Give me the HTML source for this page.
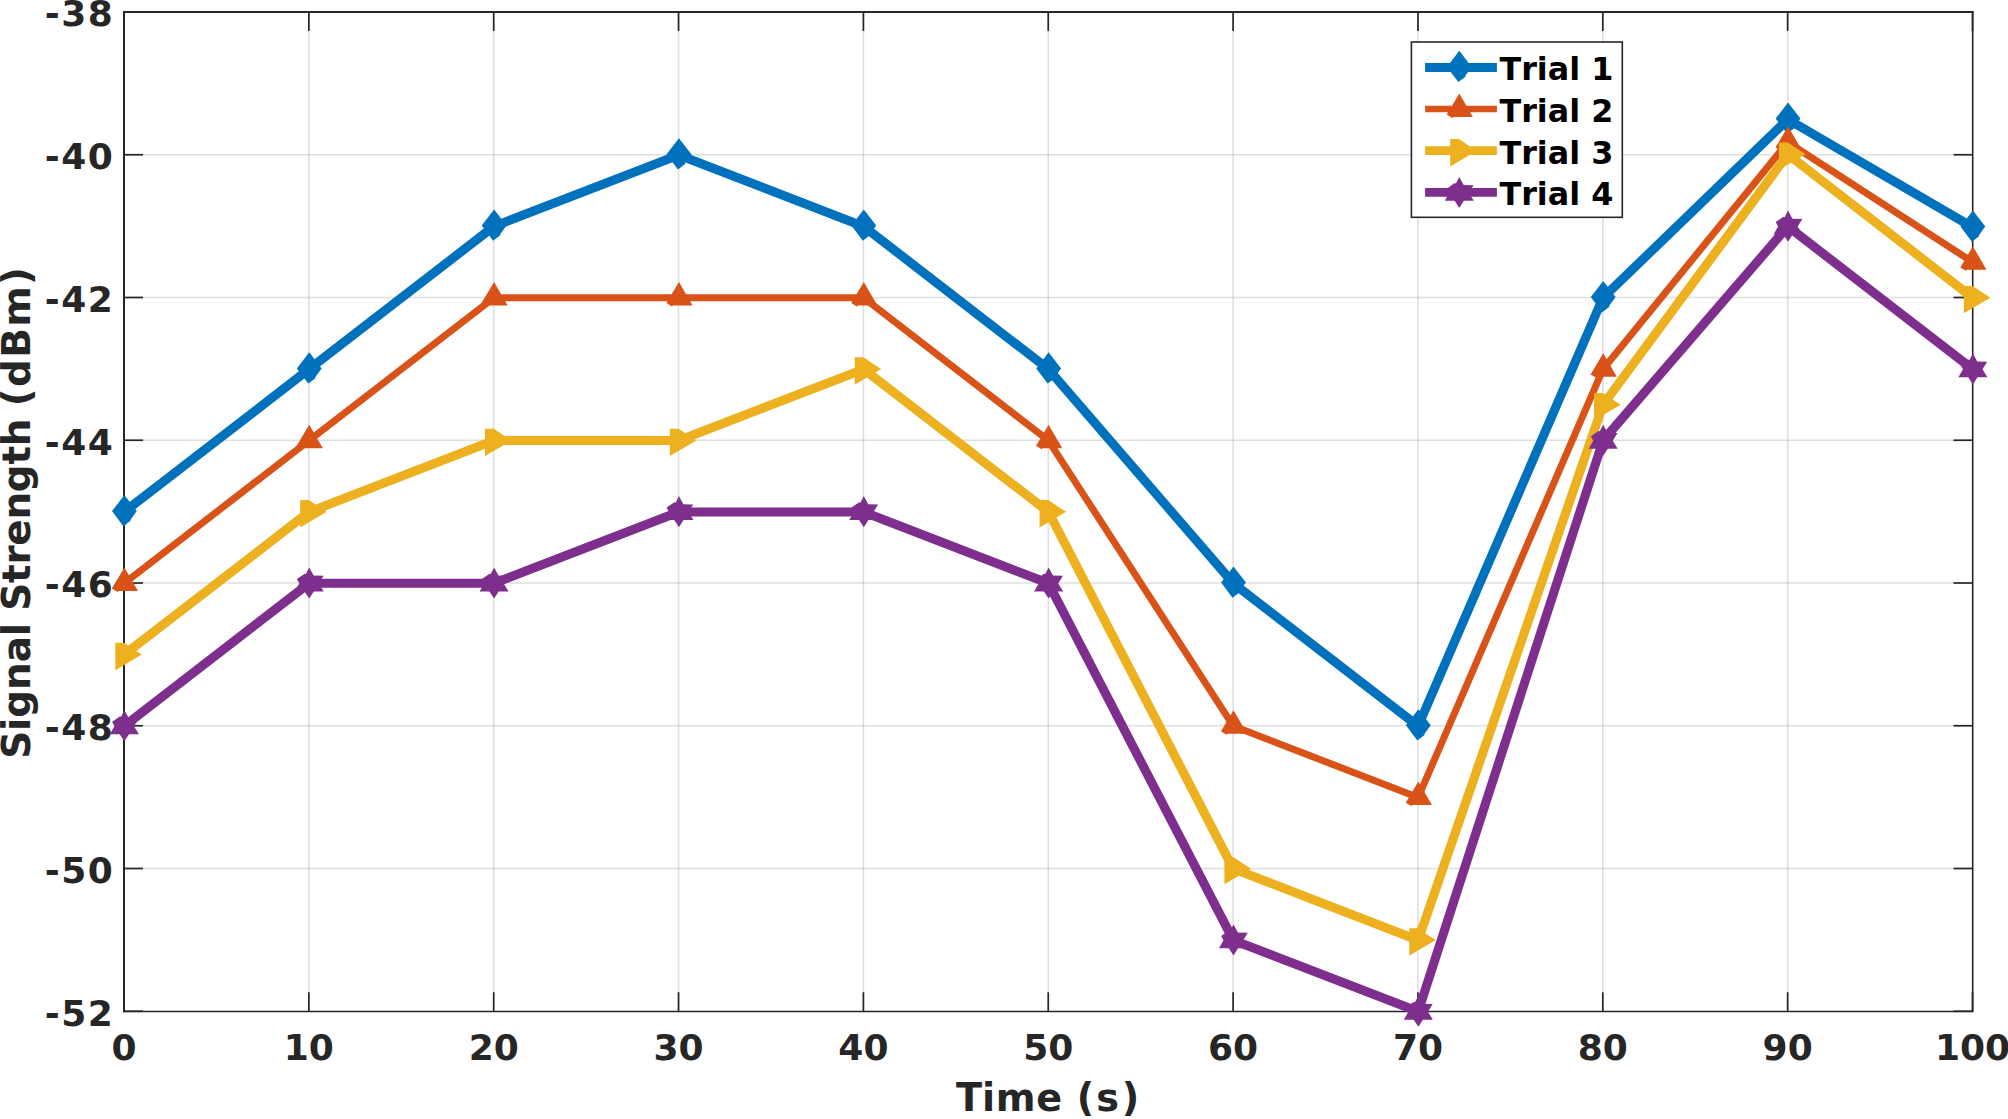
<!DOCTYPE html>
<html lang="en"><head><meta charset="utf-8"><title>Signal Strength vs Time</title>
<style>
html,body{margin:0;padding:0;background:#fff;}
body{width:2008px;height:1119px;overflow:hidden;}
svg{display:block;}
text{font-family:'DejaVu Sans','Liberation Sans',sans-serif;font-weight:bold;font-kerning:none;}
.tk{font-size:36px;fill:#262626;}
.xl{font-size:38.2px;fill:#262626;letter-spacing:0px;}
.yl{font-size:38.9px;fill:#262626;letter-spacing:0px;}
.yt{letter-spacing:1.5px;}
.lg{font-size:31.8px;fill:#000;letter-spacing:0px;}
</style></head><body>
<svg width="2008" height="1119" viewBox="0 0 2008 1119" role="img" aria-label="Signal Strength versus Time for four trials">
<rect x="0" y="0" width="2008" height="1119" fill="#fff"/>
<g stroke="#262626" stroke-opacity="0.15" stroke-width="1.6" fill="none">
<line x1="308.85" y1="12" x2="308.85" y2="1011.25"/>
<line x1="493.7" y1="12" x2="493.7" y2="1011.25"/>
<line x1="678.55" y1="12" x2="678.55" y2="1011.25"/>
<line x1="863.4" y1="12" x2="863.4" y2="1011.25"/>
<line x1="1048.25" y1="12" x2="1048.25" y2="1011.25"/>
<line x1="1233.1" y1="12" x2="1233.1" y2="1011.25"/>
<line x1="1417.95" y1="12" x2="1417.95" y2="1011.25"/>
<line x1="1602.8" y1="12" x2="1602.8" y2="1011.25"/>
<line x1="1787.65" y1="12" x2="1787.65" y2="1011.25"/>
<line x1="124" y1="868.5" x2="1972.5" y2="868.5"/>
<line x1="124" y1="725.75" x2="1972.5" y2="725.75"/>
<line x1="124" y1="583" x2="1972.5" y2="583"/>
<line x1="124" y1="440.25" x2="1972.5" y2="440.25"/>
<line x1="124" y1="297.5" x2="1972.5" y2="297.5"/>
<line x1="124" y1="154.75" x2="1972.5" y2="154.75"/>
</g>
<g stroke="#262626" stroke-width="1.7" fill="none">
<line x1="124" y1="1011.25" x2="124" y2="992.25"/>
<line x1="124" y1="12" x2="124" y2="31"/>
<line x1="308.85" y1="1011.25" x2="308.85" y2="992.25"/>
<line x1="308.85" y1="12" x2="308.85" y2="31"/>
<line x1="493.7" y1="1011.25" x2="493.7" y2="992.25"/>
<line x1="493.7" y1="12" x2="493.7" y2="31"/>
<line x1="678.55" y1="1011.25" x2="678.55" y2="992.25"/>
<line x1="678.55" y1="12" x2="678.55" y2="31"/>
<line x1="863.4" y1="1011.25" x2="863.4" y2="992.25"/>
<line x1="863.4" y1="12" x2="863.4" y2="31"/>
<line x1="1048.25" y1="1011.25" x2="1048.25" y2="992.25"/>
<line x1="1048.25" y1="12" x2="1048.25" y2="31"/>
<line x1="1233.1" y1="1011.25" x2="1233.1" y2="992.25"/>
<line x1="1233.1" y1="12" x2="1233.1" y2="31"/>
<line x1="1417.95" y1="1011.25" x2="1417.95" y2="992.25"/>
<line x1="1417.95" y1="12" x2="1417.95" y2="31"/>
<line x1="1602.8" y1="1011.25" x2="1602.8" y2="992.25"/>
<line x1="1602.8" y1="12" x2="1602.8" y2="31"/>
<line x1="1787.65" y1="1011.25" x2="1787.65" y2="992.25"/>
<line x1="1787.65" y1="12" x2="1787.65" y2="31"/>
<line x1="1972.5" y1="1011.25" x2="1972.5" y2="992.25"/>
<line x1="1972.5" y1="12" x2="1972.5" y2="31"/>
<line x1="124" y1="1011.25" x2="143" y2="1011.25"/>
<line x1="1972.5" y1="1011.25" x2="1953.5" y2="1011.25"/>
<line x1="124" y1="868.5" x2="143" y2="868.5"/>
<line x1="1972.5" y1="868.5" x2="1953.5" y2="868.5"/>
<line x1="124" y1="725.75" x2="143" y2="725.75"/>
<line x1="1972.5" y1="725.75" x2="1953.5" y2="725.75"/>
<line x1="124" y1="583" x2="143" y2="583"/>
<line x1="1972.5" y1="583" x2="1953.5" y2="583"/>
<line x1="124" y1="440.25" x2="143" y2="440.25"/>
<line x1="1972.5" y1="440.25" x2="1953.5" y2="440.25"/>
<line x1="124" y1="297.5" x2="143" y2="297.5"/>
<line x1="1972.5" y1="297.5" x2="1953.5" y2="297.5"/>
<line x1="124" y1="154.75" x2="143" y2="154.75"/>
<line x1="1972.5" y1="154.75" x2="1953.5" y2="154.75"/>
<line x1="124" y1="12" x2="143" y2="12"/>
<line x1="1972.5" y1="12" x2="1953.5" y2="12"/>
</g>
<g stroke="#262626" fill="none" stroke-linecap="square">
<line x1="124" y1="12" x2="1972.5" y2="12" stroke-width="2"/>
<line x1="124" y1="12" x2="124" y2="1011.25" stroke-width="2"/>
<line x1="124" y1="1011.6" x2="1972.5" y2="1011.6" stroke-width="1.5"/>
<line x1="1972.7" y1="12" x2="1972.7" y2="1011.25" stroke-width="1.6"/>
</g>
<polyline points="124.2,511.93 309.05,369.18 493.9,226.43 678.75,155.05 863.6,226.43 1048.45,369.18 1233.3,583.3 1418.15,726.05 1603,297.8 1787.85,119.36 1972.7,227.28" fill="none" stroke="#0072BD" stroke-width="9.1" stroke-linejoin="round" stroke-linecap="butt"/>
<polygon points="124.4,495.02 136.8,511.12 130.2,520.23 130.9,520.62 123.4,526.33 112,511.12" fill="#0072BD"/>
<polygon points="309.25,352.27 321.65,368.38 315.05,377.48 315.75,377.88 308.25,383.57 296.85,368.38" fill="#0072BD"/>
<polygon points="494.1,209.53 506.5,225.62 499.9,234.72 500.6,235.12 493.1,240.82 481.7,225.62" fill="#0072BD"/>
<polygon points="678.95,138.15 691.35,154.25 684.75,163.35 685.45,163.75 677.95,169.45 666.55,154.25" fill="#0072BD"/>
<polygon points="863.8,209.53 876.2,225.62 869.6,234.72 870.3,235.12 862.8,240.82 851.4,225.62" fill="#0072BD"/>
<polygon points="1048.65,352.27 1061.05,368.38 1054.45,377.48 1055.15,377.88 1047.65,383.57 1036.25,368.38" fill="#0072BD"/>
<polygon points="1233.5,566.4 1245.9,582.5 1239.3,591.6 1240,592 1232.5,597.7 1221.1,582.5" fill="#0072BD"/>
<polygon points="1418.35,709.15 1430.75,725.25 1424.15,734.35 1424.85,734.75 1417.35,740.45 1405.95,725.25" fill="#0072BD"/>
<polygon points="1603.2,280.9 1615.6,297 1609,306.1 1609.7,306.5 1602.2,312.2 1590.8,297" fill="#0072BD"/>
<polygon points="1788.05,102.46 1800.45,118.56 1793.85,127.66 1794.55,128.06 1787.05,133.76 1775.65,118.56" fill="#0072BD"/>
<polygon points="1972.9,210.38 1985.3,226.48 1978.7,235.58 1979.4,235.98 1971.9,241.68 1960.5,226.48" fill="#0072BD"/>
<polyline points="124.2,583.3 309.05,440.55 493.9,297.8 678.75,297.8 863.6,297.8 1048.45,440.55 1233.3,726.05 1418.15,797.42 1603,369.18 1787.85,142.2 1972.7,262.11" fill="none" stroke="#D95319" stroke-width="7" stroke-linejoin="round" stroke-linecap="butt"/>
<polygon points="124.4,567.4 138,590.95 118.4,590.95 117.4,591.95 111.8,588.6" fill="#D95319"/>
<polygon points="309.25,424.65 322.85,448.2 303.25,448.2 302.25,449.2 296.65,445.85" fill="#D95319"/>
<polygon points="494.1,281.9 507.7,305.45 488.1,305.45 487.1,306.45 481.5,303.1" fill="#D95319"/>
<polygon points="678.95,281.9 692.55,305.45 672.95,305.45 671.95,306.45 666.35,303.1" fill="#D95319"/>
<polygon points="863.8,281.9 877.4,305.45 857.8,305.45 856.8,306.45 851.2,303.1" fill="#D95319"/>
<polygon points="1048.65,424.65 1062.25,448.2 1042.65,448.2 1041.65,449.2 1036.05,445.85" fill="#D95319"/>
<polygon points="1233.5,710.15 1247.1,733.7 1227.5,733.7 1226.5,734.7 1220.9,731.35" fill="#D95319"/>
<polygon points="1418.35,781.52 1431.95,805.08 1412.35,805.08 1411.35,806.08 1405.75,802.73" fill="#D95319"/>
<polygon points="1603.2,353.27 1616.8,376.82 1597.2,376.82 1596.2,377.82 1590.6,374.48" fill="#D95319"/>
<polygon points="1788.05,126.3 1801.65,149.85 1782.05,149.85 1781.05,150.85 1775.45,147.5" fill="#D95319"/>
<polygon points="1972.9,246.21 1986.5,269.76 1966.9,269.76 1965.9,270.76 1960.3,267.41" fill="#D95319"/>
<polyline points="124.2,654.67 309.05,511.93 493.9,440.55 678.75,440.55 863.6,369.18 1048.45,511.93 1233.3,868.8 1418.15,940.17 1603,404.86 1787.85,154.34 1972.7,297.8" fill="none" stroke="#EDB120" stroke-width="9.1" stroke-linejoin="round" stroke-linecap="butt"/>
<polygon points="115.3,642.83 124.1,642.83 132.7,648.67 141.9,654.58 115.3,670.17" fill="#EDB120"/>
<polygon points="300.15,500.07 308.95,500.07 317.55,505.93 326.75,511.82 300.15,527.42" fill="#EDB120"/>
<polygon points="485,428.7 493.8,428.7 502.4,434.55 511.6,440.45 485,456.05" fill="#EDB120"/>
<polygon points="669.85,428.7 678.65,428.7 687.25,434.55 696.45,440.45 669.85,456.05" fill="#EDB120"/>
<polygon points="854.7,357.32 863.5,357.32 872.1,363.18 881.3,369.07 854.7,384.68" fill="#EDB120"/>
<polygon points="1039.55,500.07 1048.35,500.07 1056.95,505.93 1066.15,511.82 1039.55,527.42" fill="#EDB120"/>
<polygon points="1224.4,856.95 1233.2,856.95 1241.8,862.8 1251,868.7 1224.4,884.3" fill="#EDB120"/>
<polygon points="1409.25,928.33 1418.05,928.33 1426.65,934.17 1435.85,940.08 1409.25,955.67" fill="#EDB120"/>
<polygon points="1594.1,393.01 1602.9,393.01 1611.5,398.86 1620.7,404.76 1594.1,420.36" fill="#EDB120"/>
<polygon points="1778.95,142.49 1787.75,142.49 1796.35,148.34 1805.55,154.24 1778.95,169.84" fill="#EDB120"/>
<polygon points="1963.8,285.95 1972.6,285.95 1981.2,291.8 1990.4,297.7 1963.8,313.3" fill="#EDB120"/>
<polyline points="124.2,726.05 309.05,583.3 493.9,583.3 678.75,511.93 863.6,511.93 1048.45,583.3 1233.3,940.17 1418.15,1011.55 1603,440.55 1787.85,226.43 1972.7,369.18" fill="none" stroke="#7E2F8E" stroke-width="9.1" stroke-linejoin="round" stroke-linecap="butt"/>
<polygon points="124.4,710.25 128.8,718.35 138.7,718.55 134,726.15 138.9,734.15 129,734.15 124.4,741.35 119.7,734.15 109.9,734.15 114.4,726.15 112.1,721.75 119.8,716.45 121,716.85" fill="#7E2F8E"/>
<polygon points="309.25,567.5 313.65,575.6 323.55,575.8 318.85,583.4 323.75,591.4 313.85,591.4 309.25,598.6 304.55,591.4 294.75,591.4 299.25,583.4 296.95,579 304.65,573.7 305.85,574.1" fill="#7E2F8E"/>
<polygon points="494.1,567.5 498.5,575.6 508.4,575.8 503.7,583.4 508.6,591.4 498.7,591.4 494.1,598.6 489.4,591.4 479.6,591.4 484.1,583.4 481.8,579 489.5,573.7 490.7,574.1" fill="#7E2F8E"/>
<polygon points="678.95,496.12 683.35,504.23 693.25,504.43 688.55,512.02 693.45,520.02 683.55,520.02 678.95,527.23 674.25,520.02 664.45,520.02 668.95,512.02 666.65,507.62 674.35,502.32 675.55,502.73" fill="#7E2F8E"/>
<polygon points="863.8,496.12 868.2,504.23 878.1,504.43 873.4,512.02 878.3,520.02 868.4,520.02 863.8,527.23 859.1,520.02 849.3,520.02 853.8,512.02 851.5,507.62 859.2,502.32 860.4,502.73" fill="#7E2F8E"/>
<polygon points="1048.65,567.5 1053.05,575.6 1062.95,575.8 1058.25,583.4 1063.15,591.4 1053.25,591.4 1048.65,598.6 1043.95,591.4 1034.15,591.4 1038.65,583.4 1036.35,579 1044.05,573.7 1045.25,574.1" fill="#7E2F8E"/>
<polygon points="1233.5,924.38 1237.9,932.48 1247.8,932.67 1243.1,940.27 1248,948.27 1238.1,948.27 1233.5,955.48 1228.8,948.27 1219,948.27 1223.5,940.27 1221.2,935.88 1228.9,930.58 1230.1,930.98" fill="#7E2F8E"/>
<polygon points="1418.35,995.75 1422.75,1003.85 1432.65,1004.05 1427.95,1011.65 1432.85,1019.65 1422.95,1019.65 1418.35,1026.85 1413.65,1019.65 1403.85,1019.65 1408.35,1011.65 1406.05,1007.25 1413.75,1001.95 1414.95,1002.35" fill="#7E2F8E"/>
<polygon points="1603.2,424.75 1607.6,432.85 1617.5,433.05 1612.8,440.65 1617.7,448.65 1607.8,448.65 1603.2,455.85 1598.5,448.65 1588.7,448.65 1593.2,440.65 1590.9,436.25 1598.6,430.95 1599.8,431.35" fill="#7E2F8E"/>
<polygon points="1788.05,210.62 1792.45,218.72 1802.35,218.93 1797.65,226.53 1802.55,234.53 1792.65,234.53 1788.05,241.72 1783.35,234.53 1773.55,234.53 1778.05,226.53 1775.75,222.12 1783.45,216.82 1784.65,217.22" fill="#7E2F8E"/>
<polygon points="1972.9,353.38 1977.3,361.48 1987.2,361.68 1982.5,369.27 1987.4,377.27 1977.5,377.27 1972.9,384.48 1968.2,377.27 1958.4,377.27 1962.9,369.27 1960.6,364.88 1968.3,359.57 1969.5,359.98" fill="#7E2F8E"/>
<text class="tk" x="124" y="1060.3" text-anchor="middle">0</text>
<text class="tk" x="308.85" y="1060.3" text-anchor="middle">10</text>
<text class="tk" x="493.7" y="1060.3" text-anchor="middle">20</text>
<text class="tk" x="678.55" y="1060.3" text-anchor="middle">30</text>
<text class="tk" x="863.4" y="1060.3" text-anchor="middle">40</text>
<text class="tk" x="1048.25" y="1060.3" text-anchor="middle">50</text>
<text class="tk" x="1233.1" y="1060.3" text-anchor="middle">60</text>
<text class="tk" x="1417.95" y="1060.3" text-anchor="middle">70</text>
<text class="tk" x="1602.8" y="1060.3" text-anchor="middle">80</text>
<text class="tk" x="1787.65" y="1060.3" text-anchor="middle">90</text>
<text class="tk" x="1972.5" y="1060.3" text-anchor="middle">100</text>
<text class="tk yt" x="114.3" y="1025.65" text-anchor="end">-52</text>
<text class="tk yt" x="114.3" y="882.9" text-anchor="end">-50</text>
<text class="tk yt" x="114.3" y="740.15" text-anchor="end">-48</text>
<text class="tk yt" x="114.3" y="597.4" text-anchor="end">-46</text>
<text class="tk yt" x="114.3" y="454.65" text-anchor="end">-44</text>
<text class="tk yt" x="114.3" y="311.9" text-anchor="end">-42</text>
<text class="tk yt" x="114.3" y="169.15" text-anchor="end">-40</text>
<text class="tk yt" x="114.3" y="26.4" text-anchor="end">-38</text>
<text class="xl" x="955.93 982.05 995.67 1036.2 1063 1076.81 1096.35 1121.83" y="1110.8">Time (s)</text>
<text class="yl" transform="translate(29.8,0) rotate(-90)" x="-758.79 -730.88 -717.65 -689.9 -662.31 -636.17 -622 -610.69 -582.94 -564.62 -545.7 -519.59 -492.16 -464.58 -446.25 -418 -406.24 -387.09 -357.87 -326.84 -284.94" y="0">Signal Strength (dBm)</text>
<rect x="1411.4" y="42" width="210.9" height="175.3" fill="#fff" stroke="#262626" stroke-width="1.6"/>
<line x1="1425.1" y1="67.4" x2="1496.9" y2="67.4" stroke="#0072BD" stroke-width="9"/>
<polygon points="1459.3,50.8 1471.7,66.9 1465.1,76 1465.8,76.4 1458.3,82.1 1446.9,66.9" fill="#0072BD"/>
<text class="lg" x="1499.5" y="80.4">Trial 1</text>
<line x1="1425.1" y1="109" x2="1496.9" y2="109" stroke="#D95319" stroke-width="6.4"/>
<polygon points="1459.3,93.4 1472.9,116.95 1453.3,116.95 1452.3,117.95 1446.7,114.6" fill="#D95319"/>
<text class="lg" x="1499.5" y="122">Trial 2</text>
<line x1="1425.1" y1="150.6" x2="1496.9" y2="150.6" stroke="#EDB120" stroke-width="8.9"/>
<polygon points="1450.2,139.05 1459,139.05 1467.6,144.9 1476.8,150.8 1450.2,166.4" fill="#EDB120"/>
<text class="lg" x="1499.5" y="163.6">Trial 3</text>
<line x1="1425.1" y1="192.4" x2="1496.9" y2="192.4" stroke="#7E2F8E" stroke-width="8.7"/>
<polygon points="1459.3,176.9 1463.7,185 1473.6,185.2 1468.9,192.8 1473.8,200.8 1463.9,200.8 1459.3,208 1454.6,200.8 1444.8,200.8 1449.3,192.8 1447,188.4 1454.7,183.1 1455.9,183.5" fill="#7E2F8E"/>
<text class="lg" x="1499.5" y="205.4">Trial 4</text>
</svg>
</body></html>
